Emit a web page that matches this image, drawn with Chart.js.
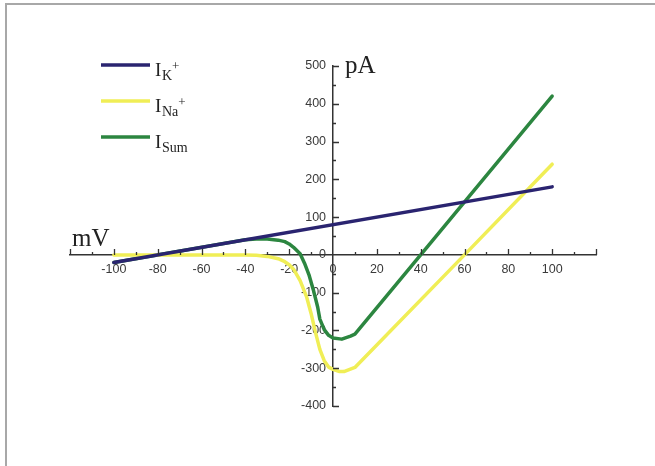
<!DOCTYPE html>
<html>
<head>
<meta charset="utf-8">
<script src="https://cdn.jsdelivr.net/npm/chart.js@4.4.0/dist/chart.umd.min.js"></script>
<style>
  html, body { margin: 0; padding: 0; background: #fff; }
  #box { width: 655px; height: 466px; position: relative; }
</style>
</head>
<body>
<div id="box"><canvas id="iv_graph"></canvas></div>
<script>
// membrane voltage (mV) and currents (pA)
const volt_k    = [-100, 100];
const curr_k    = [-20, 180];

const volt_na   = [-100, -60, -40, -35, -30, -25, -22, -20, -18, -15, -12, -10, -8, -6, -4, -2, 0, 3, 5, 10, 60, 100];
const curr_na   = [0, 0, 0, -1, -4, -10, -18, -26, -38, -68, -112, -155, -205, -250, -280, -297, -303, -309, -309, -298, 0, 240];

const volt_sum  = [-100, -40, -35, -30, -25, -22, -20, -18, -15, -13, -11, -9, -7, -6, -4, -2, 0, 4, 8, 10, 40, 100];
const curr_sum  = [-20, 40, 42, 42, 39, 35, 29, 20, 3, -22, -52, -92, -138, -170, -198, -213, -220, -223, -215, -210, 0, 420];

const x_ticks   = [-100, -80, -60, -40, -20, 0, 20, 40, 60, 80, 100];
const y_ticks   = [-400, -300, -200, -100, 0, 100, 200, 300, 400, 500];

const series_names  = ["K", "Na", "Sum"];
const series_colors = ["rgb(42,36,112)", "rgb(240,238,86)", "rgb(44,134,64)"];

function to_points(xs, ys){
    let pts = [];
    for (let i = 0; i < xs.length; i++){
        pts.push({x: xs[i], y: ys[i]});
    }
    return pts;
}

// 枠線・目盛り・軸名・凡例を描くプラグイン
const decor = {
    id: "decor",
    afterDraw(chart){
        const ctx = chart.ctx;
        const sx = chart.scales.x;
        const sy = chart.scales.y;
        const x0 = sx.getPixelForValue(0);
        const y0 = sy.getPixelForValue(0);

        ctx.save();
        // frame
        ctx.strokeStyle = "#a8a8a8";
        ctx.lineWidth = 2;
        ctx.beginPath();
        ctx.moveTo(6, 466); ctx.lineTo(6, 4); ctx.lineTo(655, 4);
        ctx.stroke();

        // tick marks pointing inward
        ctx.strokeStyle = "#333";
        ctx.lineWidth = 1.3;
        ctx.beginPath();
        for (let v = -120; v <= 120; v += 10){
            if (v == 0) continue;
            const px = Math.round(sx.getPixelForValue(v)) + 0.5;
            const len = (v % 20 == 0) ? 6 : 3;
            ctx.moveTo(px, y0); ctx.lineTo(px, y0 - len);
        }
        for (let v = -400; v <= 500; v += 50){
            if (v == 0) continue;
            const py = Math.round(sy.getPixelForValue(v)) + 0.5;
            const len = (v % 100 == 0) ? 6 : 3;
            ctx.moveTo(x0, py); ctx.lineTo(x0 + len, py);
        }
        ctx.stroke();

        // axis names
        ctx.fillStyle = "#222";
        ctx.textBaseline = "alphabetic";
        ctx.font = "25px 'Liberation Serif', 'DejaVu Serif', serif";
        ctx.fillText("mV", 72, 246);
        ctx.fillText("pA", 345, 73);

        // legend
        for (let i = 0; i < series_names.length; i++){
            const ly = 65 + i * 36;
            ctx.strokeStyle = series_colors[i];
            ctx.lineWidth = 3.5;
            ctx.beginPath();
            ctx.moveTo(101, ly); ctx.lineTo(150, ly);
            ctx.stroke();

            ctx.fillStyle = "#222";
            ctx.font = "19px 'Liberation Serif', serif";
            ctx.fillText("I", 155, ly + 11);
            ctx.font = "14px 'Liberation Serif', serif";
            ctx.fillText(series_names[i], 162, ly + 15);
            if (series_names[i] != "Sum"){
                const w = ctx.measureText(series_names[i]).width;
                ctx.font = "13px 'Liberation Serif', serif";
                ctx.fillText("+", 162 + w, ly + 5);
            }
        }
        ctx.restore();
    }
};

const ctx = document.getElementById("iv_graph").getContext("2d");
const myChart = new Chart(ctx, {
    type: "scatter",
    data: {
        datasets: [
            { label: "IK+",  data: to_points(volt_k, curr_k),     borderColor: series_colors[0] },
            { label: "INa+", data: to_points(volt_na, curr_na),   borderColor: series_colors[1] },
            { label: "ISum", data: to_points(volt_sum, curr_sum), borderColor: series_colors[2] }
        ]
    },
    options: {
        responsive: true,
        maintainAspectRatio: false,
        animation: false,
        showLine: true,
        elements: {
            point: { radius: 0 },
            line: { borderWidth: 3.5, tension: 0, borderJoinStyle: "round", borderCapStyle: "round" }
        },
        layout: { padding: { left: 70, right: 59, top: 66, bottom: 60 } },
        plugins: { legend: { display: false }, tooltip: { enabled: false } },
        scales: {
            x: {
                type: "linear",
                min: -120, max: 120,
                position: { y: 0 },
                afterBuildTicks: (s) => { s.ticks = x_ticks.map(v => ({ value: v })); },
                ticks: { font: { family: "'Liberation Sans', Arial", size: 12.5 }, color: "#3a3a3a", padding: 1, maxRotation: 0 },
                grid: { display: false, tickLength: 6 },
                border: { display: true, color: "#333", width: 1.5 }
            },
            y: {
                type: "linear",
                min: -400, max: 500,
                position: { x: 0 },
                afterBuildTicks: (s) => { s.ticks = y_ticks.map(v => ({ value: v })); },
                ticks: {
                    font: { family: "'Liberation Sans', Arial", size: 12.5 }, color: "#3a3a3a",
                    callback: (v) => String(v) + "  "
                },
                grid: { display: false },
                border: { display: true, color: "#333", width: 1.5 }
            }
        }
    },
    plugins: [decor]
});
</script>
</body>
</html>
